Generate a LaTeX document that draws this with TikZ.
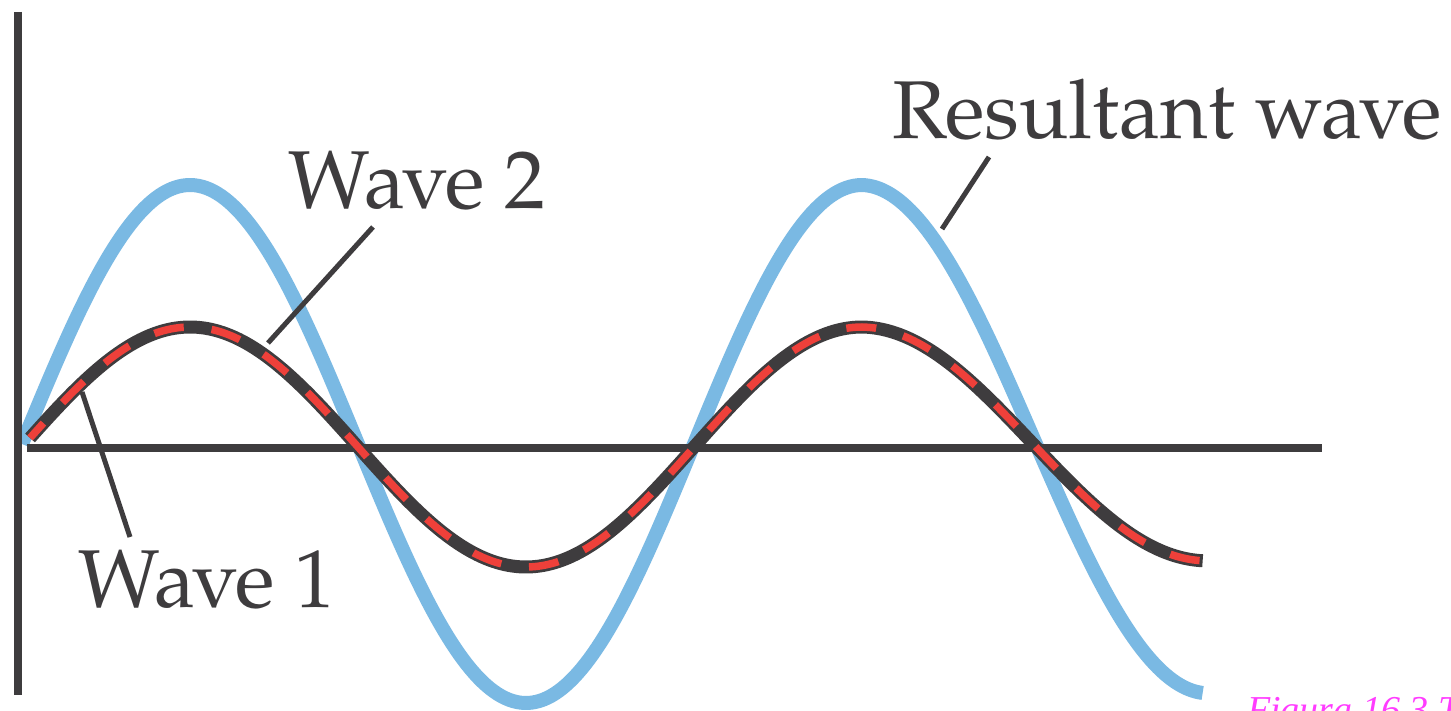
\documentclass[tikz,border=0pt]{standalone}
\usepackage{fontspec}
\setmainfont{TeX Gyre Pagella}
\newfontfamily\capfont{Liberation Serif}
\definecolor{axisgray}{HTML}{3E3C3E}
\definecolor{wavebl}{HTML}{7AB9E3}
\definecolor{wavered}{HTML}{EE403A}
\definecolor{capmag}{HTML}{FF3CFF}
\tikzset{
  axisline/.style={draw=axisgray, line width=7.5pt},
  bluewave/.style={draw=wavebl, line width=14pt, line join=round},
  darkwave/.style={draw=axisgray, line width=13pt, line join=round},
  reddash/.style={draw=wavered, line width=7.5pt, dash pattern=on 30pt off 28pt, dash phase=10pt},
  leader/.style={draw=axisgray, line width=5pt},
  lbl/.style={inner sep=0pt, anchor=base west, text=axisgray, font=\fontsize{82}{82}\selectfont},
}
\begin{document}
\begin{tikzpicture}[x=1pt, y=-1pt]
\clip (0,0) rectangle (1451,711);
\fill[white] (0,0) rectangle (1451,711);
% axes
\coordinate (vtop) at (18,12);
\coordinate (vbot) at (18,695);
\coordinate (hleft) at (27,448);
\coordinate (hright) at (1322,448);
% resultant wave
\draw[bluewave] plot[domain=0:1.25, samples=220, variable=\t] ({22+672*\t}, {444-259*sin(360*\t)})
  -- plot[domain=1.25:1.74, samples=100, variable=\t] ({862+696*(\t-1.25)}, {444-(259-9.5*(\t-1.25)/0.49)*sin(360*\t)});
\draw[axisline] (vtop) -- (vbot);
\draw[axisline] (hleft) -- (hright);
% wave 1 and wave 2 (coincident)
\draw[darkwave] plot[domain=0.012:1.25, samples=220, variable=\t] ({22+672*\t}, {447-120*sin(360*\t)})
  -- plot[domain=1.25:1.74, samples=100, variable=\t] ({862+696*(\t-1.25)}, {447-(120-6*(\t-1.25)/0.49)*sin(360*\t)});
\draw[reddash] plot[domain=0.012:1.25, samples=220, variable=\t] ({22+672*\t}, {447-120*sin(360*\t)})
  -- plot[domain=1.25:1.74, samples=100, variable=\t] ({862+696*(\t-1.25)}, {447-(120-6*(\t-1.25)/0.49)*sin(360*\t)});
% labels
\node[lbl] (lblres) at (892,139) {Resultant wave};
\node[lbl] (lblw2) at (288,209) {Wave 2};
\node[lbl] (lblw1) at (78,607) {Wave 1};
\coordinate (resA) at (989,157);
\coordinate (resB) at (942,229);
\coordinate (w2A) at (373,227);
\coordinate (w2B) at (268,343);
\coordinate (w1A) at (82,392);
\coordinate (w1B) at (130,537);
\draw[leader] (resA) -- (resB);
\draw[leader] (w2A) -- (w2B);
\draw[leader] (w1A) -- (w1B);
% caption fragment
\node[inner sep=0pt, anchor=base west, text=capmag, font=\capfont\itshape\fontsize{38}{38}\selectfont] (figcap) at (1247,722) {Figura 16.3 T};
\end{tikzpicture}
\end{document}
